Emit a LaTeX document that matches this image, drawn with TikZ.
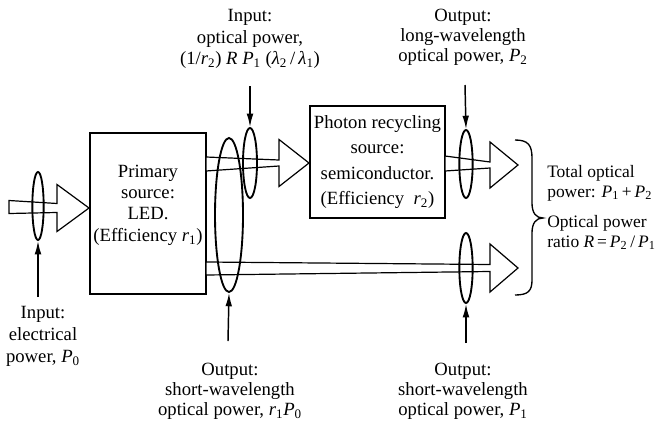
\documentclass[tikz,border=0pt]{standalone}
\usepackage{fontspec}
\setmainfont{Liberation Serif}
\usetikzlibrary{arrows.meta,shapes.geometric,calc}

\newcommand{\vsub}[2]{\textit{#1}\textsubscript{#2}}
% hollow beam: start, tip, shaft half width at start, at head, head half width, head length
\newcommand{\beam}[6]{%
  \draw[beam line] ($(#1)+(0,#3)$) -- ($(#2)+(-#6,#4)$) -- ($(#2)+(-#6,#5)$) -- (#2)
    -- ($(#2)+(-#6,-#5)$) -- ($(#2)+(-#6,-#4)$) -- ($(#1)+(0,-#3)$) -- cycle;}

\begin{document}
\begin{tikzpicture}[x=0.75pt,y=-0.75pt,
  box node/.style={draw,line width=1.5pt,align=center,inner sep=0pt},
  ring node/.style={draw,ellipse,line width=1.4pt,inner sep=0pt},
  label node/.style={align=center,inner sep=0pt},
  beam line/.style={draw,fill=white,line width=0.9pt,line join=miter},
  probe/.style={-{Latex[length=10pt,width=5pt]},line width=1.1pt},
  font=\fontsize{14}{16}\selectfont]
  \useasboundingbox (0,0) rectangle (656,421);

  \node[box node,minimum width=87pt,minimum height=120.75pt] (led) at (148,213.5) {};
  \node[box node,minimum width=101pt,minimum height=84pt,
        font=\fontsize{14}{19}\selectfont] (pr) at (377.5,162)
        {Photon recycling\\source:\\semiconductor.\\(Efficiency~ \vsub{r}{2})};
  \node[label node] (ledtxt) at (148,205) {Primary\\source:\\LED.\\(Efficiency \vsub{r}{1})};

  % beams
  \coordinate (src) at (9,207);
  \coordinate (ledin) at (89,208);
  \coordinate (ledup) at (206,164);
  \coordinate (prin) at (309,163);
  \coordinate (prout) at (445,163.5);
  \coordinate (tipup) at (518,165);
  \coordinate (leddn) at (206,268.5);
  \coordinate (tipdn) at (518,268);
  \beam{src}{ledin}{6.5}{4.5}{23.5}{32}
  \beam{ledup}{prin}{7}{3}{23.5}{30}
  \beam{prout}{tipup}{7.5}{3}{23}{28}
  \beam{leddn}{tipdn}{6.5}{3.5}{24}{28}

  % rings
  \node[ring node,minimum width=8.5pt,minimum height=51pt] (e0) at (38,206) {};
  \node[ring node,minimum width=21pt,minimum height=115.5pt] (e1) at (229,215) {};
  \node[ring node,minimum width=10.5pt,minimum height=52.5pt] (e2) at (250,163) {};
  \node[ring node,minimum width=10pt,minimum height=51pt] (e3) at (466,164) {};
  \node[ring node,minimum width=10pt,minimum height=52.5pt] (e4) at (466,268) {};

  \coordinate (c0) at (38,297);
  \coordinate (c1) at (250,86);
  \coordinate (c2) at (228,341);
  \coordinate (c3) at (465,85);
  \coordinate (c4) at (466,343);
  \path
  (c0) edge[probe] (e0.south)
  (c1) edge[probe] (e2.north)
  (c2) edge[probe] (e1.south)
  (c3) edge[probe] (e3.north)
  (c4) edge[probe] (e4.south);

  % brace
  \draw[line width=1pt] (515,140) .. controls (528,140) and (532,145) .. (532,158)
    -- (532,203) .. controls (532,213) and (536,218) .. (543,218)
    .. controls (536,218) and (532,223) .. (532,233)
    -- (532,280) .. controls (532,291) and (528,295) .. (515,295);

  % texts
  \node[label node,font=\fontsize{14}{16.5}\selectfont] (inel) at (43,336)
    {Input:\\electrical\\power, \vsub{P}{0}};
  \node[label node] (inop) at (250,39)
    {Input:\\optical power,\\(1/\vsub{r}{2}) \textit{R} \vsub{P}{1} (\vsub{λ}{2}\,/\,\vsub{λ}{1})};
  \node[label node,font=\fontsize{14}{15}\selectfont] (outlong) at (463,37)
    {Output:\\long-wavelength\\optical power, \vsub{P}{2}};
  \node[label node,font=\fontsize{14}{15}\selectfont] (outshort) at (230,391)
    {Output:\\short-wavelength\\optical power, \vsub{r}{1}\vsub{P}{0}};
  \node[label node,font=\fontsize{14}{15}\selectfont] (outone) at (463,391)
    {Output:\\short-wavelength\\optical power, \vsub{P}{1}};
  \node[label node,align=left,anchor=west,font=\fontsize{13.1}{15}\selectfont] (total) at (547,183)
    {Total optical\\power: \vsub{P}{1}\,+\,\vsub{P}{2}};
  \node[label node,align=left,anchor=west,font=\fontsize{13.1}{15}\selectfont] (ratio) at (547,232.5)
    {Optical power\\ratio \textit{R}\,=\,\vsub{P}{2}\,/\,\vsub{P}{1}};
\end{tikzpicture}
\end{document}
